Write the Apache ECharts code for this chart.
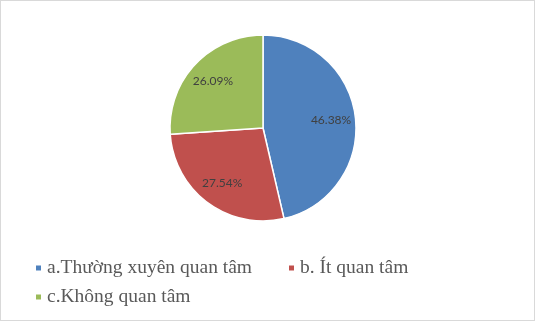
<!DOCTYPE html>
<html><head><meta charset="utf-8">
<script src="https://cdn.jsdelivr.net/npm/echarts@6/dist/echarts.min.js"></script>
<style>html,body{margin:0;padding:0;background:#fff}#c{width:535px;height:321px;box-sizing:border-box;border:1px solid #d9d9d9}</style>
</head><body><div id="c"></div>
<script>
const categories = ['a.Thường xuyên quan tâm', 'b. Ít quan tâm', 'c.Không quan tâm'];
const values = [46.38, 27.54, 26.09];
const colors = ['#4F81BD', '#C0504D', '#9BBB59'];

const chart = echarts.init(document.getElementById('c'), null, {renderer: 'canvas'});
const data = categories.map((n, i) => ({name: n, value: values[i], itemStyle: {color: colors[i]}}));
const legendPos = [[33, 257], [286, 257], [33, 286]];
const legendFont = () => ({fontFamily: 'Liberation Serif', fontSize: 19.5, color: '#595959'});
chart.setOption({
  animation: false,
  legend: categories.map((n, i) => ({
    data: [{name: n, textStyle: legendFont()}], left: legendPos[i][0], top: legendPos[i][1], icon: 'rect',
    itemWidth: 7, itemHeight: 7, padding: 0, textStyle: legendFont(), selectedMode: false
  })),
  series: [
    {
      type: 'pie', center: [262, 127], radius: [0, 93], startAngle: 90, clockwise: true,
      silent: true, label: {show: false}, labelLine: {show: false},
      itemStyle: {borderColor: '#fff', borderWidth: 1.5},
      data: data
    },
    {
      type: 'pie', center: [262, 127], radius: [38, 93], startAngle: 90, clockwise: true,
      silent: true, legendHoverLink: false,
      itemStyle: {color: 'rgba(0,0,0,0)'},
      label: {show: true, position: 'inside', formatter: p => p.value.toFixed(2) + '%',
        fontFamily: 'Lato', fontSize: 12, color: '#404040'},
      labelLine: {show: false},
      data: categories.map((n, i) => ({name: n, value: values[i]}))
    }
  ]
});
</script></body></html>
